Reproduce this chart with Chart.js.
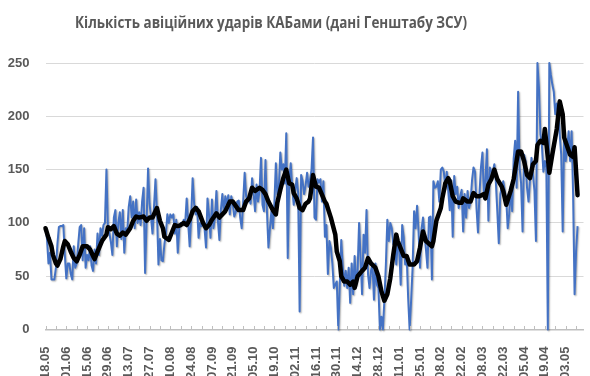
<!DOCTYPE html>
<html><head><meta charset="utf-8">
<script src="https://cdn.jsdelivr.net/npm/chart.js@4.4.1/dist/chart.umd.min.js"></script>
<style>html,body{margin:0;padding:0;background:#fff}#wrap{width:590px;height:376px;position:relative}</style>
</head><body><div id="wrap"><canvas id="c" width="590" height="376"></canvas></div>
<script>
const chartTitle = 'Кількість авіційних ударів КАБами (дані Генштабу ЗСУ)';
const startDate = [2024, 4, 18];
const dayCount = 363;
const yTicks = [0, 50, 100, 150, 200, 250];
const labelEvery = 14;
const tickMarkEvery = 7;

const daily = [
  95,85,62,72,47,47,47,58,80,96,
  97,97,98,70,48,62,62,52,47,78,
  58,62,80,96,98,65,95,58,70,65,
  78,60,55,75,62,90,70,95,88,98,
  100,150,95,90,82,70,105,112,78,100,
  110,85,112,72,95,92,115,125,105,120,
  95,122,100,110,98,120,133,53,100,151,
  118,105,90,115,141,110,61,85,65,64,
  80,90,108,100,108,105,108,90,103,72,
  95,100,98,103,100,123,100,78,105,142,
  118,108,115,86,100,97,100,95,77,123,
  108,86,122,95,105,130,102,84,112,127,
  110,125,117,126,108,125,118,106,110,120,
  121,105,95,120,147,125,120,125,118,142,
  128,111,136,120,130,161,117,111,159,111,
  77,95,111,95,118,156,127,133,166,150,
  155,137,184,67,140,156,133,117,130,142,
  128,17,145,139,127,135,147,134,140,150,
  180,105,103,141,138,141,120,139,87,98,
  52,83,77,62,39,42,45,0,42,84,
  60,41,55,39,58,25,62,33,69,42,
  55,100,67,33,89,72,112,52,39,55,
  62,28,62,42,39,0,12,0,27,60,
  103,83,100,95,80,83,61,80,77,42,
  98,87,61,70,30,0,27,58,111,95,
  116,92,58,94,105,89,75,58,105,106,
  47,139,133,134,139,120,150,152,148,133,
  148,130,112,140,87,144,127,134,114,125,
  131,92,127,105,130,114,120,140,152,148,
  114,91,127,152,166,123,140,169,102,152,
  148,148,155,139,111,81,127,134,139,130,
  123,95,108,134,111,160,177,133,223,152,
  137,92,164,158,133,120,140,161,145,130,
  83,250,227,183,173,148,158,152,0,250,
  239,230,223,202,212,208,183,164,92,186,
  158,170,186,158,186,127,33,73,97
];

const trendDay = [
  0,2,4,5,7,8,10,12,13,15,
  17,19,21,23,25,28,30,32,33,35,
  38,41,42,44,46,48,50,52,54,57,
  59,61,63,66,68,70,72,75,77,79,
  80,83,85,87,89,91,93,95,97,99,
  101,103,106,108,110,112,115,117,119,121,
  124,126,128,130,133,135,137,139,141,144,
  146,148,150,153,155,156,158,160,162,164,
  166,167,169,171,173,175,177,178,180,182,184,
  188,189,192,195,196,198,199,201,203,205,
  207,208,210,213,215,217,219,222,224,226,
  228,230,232,234,236,237,241,243,245,248,
  250,252,254,256,260,261,263,266,267,269,
  271,272,274,276,278,280,281,284,286,288,
  290,292,295,296,298,300,302,304,307,308,
  310,313,315,318,320,322,324,326,328,330,
  331,333,335,336,337,339,341,343,344,346,
  348,349,351,353,355,356,358
];
const trendValue = [
  95,86,78,70,62,60,66,78,83,80,
  73,67,64,70,78,78,75,69,66,73,
  83,89,96,94,97,90,88,91,89,95,
  102,106,105,106,102,105,105,114,102,95,
  87,84,91,98,97,98,100,98,103,111,
  114,111,100,95,98,103,109,105,108,111,
  120,120,116,112,112,120,123,133,130,133,
  131,127,120,112,108,119,131,142,150,137,
  136,128,123,114,112,118,120,123,145,134,133,
  120,118,105,89,73,64,50,45,45,42,
  45,39,50,55,58,67,62,58,50,36,
  27,33,48,70,89,83,69,69,61,61,
  64,77,92,83,78,83,102,114,123,137,
  142,139,125,120,119,119,123,120,120,128,
  125,125,127,123,136,141,150,141,134,130,
  117,130,141,167,167,158,145,142,155,158,
  173,177,175,188,175,147,164,180,188,214,
  202,180,172,164,162,171,126
];

// category labels (dd.mm), one per day
const labels = [];
for (let i = 0; i < dayCount; i++) {
  const d = new Date(startDate[0], startDate[1], startDate[2] + i);
  labels.push(String(d.getDate()).padStart(2, '0') + '.' + String(d.getMonth() + 1).padStart(2, '0'));
}
const dailyData = labels.map((_, i) => i < daily.length ? daily[i] : null);
const trendData = labels.map(() => null);
trendDay.forEach((d, k) => { trendData[d] = trendValue[k]; });

const titlePlugin = {
  id: 'customTitle',
  afterDraw(chart) {
    const ctx = chart.ctx;
    ctx.save();
    ctx.font = 'bold 15.5px "Open Sans", sans-serif';
    ctx.fillStyle = '#595959';
    ctx.textAlign = 'center';
    ctx.textBaseline = 'middle';
    const w = ctx.measureText(chartTitle).width;
    const sx = Math.min(1, 392 / w);
    ctx.translate(271, 24);
    ctx.scale(sx, 1);
    ctx.fillText(chartTitle, 0, 0);
    ctx.restore();
  }
};
const tickMarks = {
  id: 'tickMarks',
  afterDraw(chart) {
    const xs = chart.scales.x, ctx = chart.ctx, b = chart.chartArea.bottom;
    ctx.save();
    ctx.strokeStyle = '#bfbfbf';
    ctx.lineWidth = 1;
    ctx.beginPath();
    for (let i = 0; i < labels.length; i += tickMarkEvery) {
      const x = Math.round(xs.getPixelForValue(i)) + 0.5;
      ctx.moveTo(x, b - 3.5); ctx.lineTo(x, b);
    }
    ctx.stroke();
    ctx.restore();
  }
};
const shadow = {
  id: 'lineShadow',
  beforeDatasetDraw(chart, args) {
    if (args.index === 1) {
      const ctx = chart.ctx; ctx.save();
      ctx.shadowColor = 'rgba(0,0,0,0.3)'; ctx.shadowBlur = 1.5; ctx.shadowOffsetX = 1; ctx.shadowOffsetY = 1;
    }
  },
  afterDatasetDraw(chart, args) { if (args.index === 1) chart.ctx.restore(); }
};

Chart.defaults.font.family = '"Liberation Sans", Arial, sans-serif';
new Chart(document.getElementById('c'), {
  type: 'line',
  data: {
    labels,
    datasets: [
      { label: 'trend', data: trendData, borderColor: '#000000', borderWidth: 4.5, pointRadius: 0,
        spanGaps: true, tension: 0, order: 0, clip: 8, borderJoinStyle: 'round', borderCapStyle: 'round' },
      { label: 'daily', data: dailyData, borderColor: '#4472C4', borderWidth: 2, pointRadius: 0,
        tension: 0, order: 1, clip: 8, borderJoinStyle: 'round' }
    ]
  },
  options: {
    responsive: false, animation: false, devicePixelRatio: 1,
    layout: { padding: { top: 63, left: 0, right: 6.5, bottom: 0 } },
    plugins: { legend: { display: false }, tooltip: { enabled: false }, title: { display: false } },
    scales: {
      x: {
        type: 'category', offset: false,
        grid: { display: false },
        border: { display: true, color: '#bfbfbf', width: 1.5 },
        ticks: {
          autoSkip: false, minRotation: 90, maxRotation: 90, padding: 9,
          color: '#595959', font: { size: 13, weight: 'bold' },
          callback: function (v, i) { return i % labelEvery === 0 ? this.getLabelForValue(v) : null; }
        },
        afterFit(s) { s.height = 46.5; s.paddingLeft = 0; s.paddingRight = 0; }
      },
      y: {
        min: yTicks[0], max: yTicks[yTicks.length - 1],
        afterBuildTicks(s) { s.ticks = yTicks.map(v => ({ value: v })); },
        grid: { color: '#d9d9d9', lineWidth: 1, drawTicks: false },
        border: { display: false },
        ticks: { padding: 16, color: '#595959', font: { size: 13, weight: 'bold' } },
        afterFit(s) { s.width = 45.5; }
      }
    }
  },
  plugins: [titlePlugin, tickMarks, shadow]
});
</script>
</body></html>
